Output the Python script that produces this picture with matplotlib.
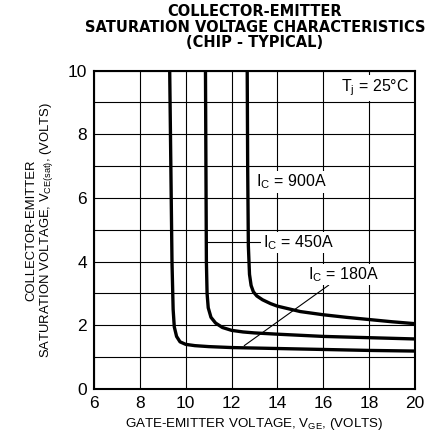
import numpy as np
import matplotlib.pyplot as plt

plt.rcParams['font.family'] = ['Liberation Sans', 'DejaVu Sans']

# curves (V_GE, V_CE(sat))
vge_180 = [9.30, 9.35, 9.40, 9.45, 9.50, 9.60, 9.75, 10.0, 10.4, 11.0, 12.0, 14.0, 16.0, 18.0, 20.0]
vce_180 = [10.0, 7.0, 4.0, 2.5, 1.95, 1.65, 1.48, 1.40, 1.36, 1.33, 1.30, 1.27, 1.24, 1.21, 1.19]

vge_450 = [10.86, 10.88, 10.90, 10.93, 10.98, 11.10, 11.30, 11.60, 12.0, 12.5, 13.0, 14.0, 16.0, 18.0, 20.0]
vce_450 = [10.0, 7.0, 4.0, 3.0, 2.55, 2.25, 2.07, 1.93, 1.84, 1.79, 1.76, 1.72, 1.65, 1.61, 1.57]

vge_900 = [12.68, 12.70, 12.73, 12.78, 12.85, 12.95, 13.10, 13.35, 13.70, 14.0, 15.0, 16.0, 17.0, 18.0, 19.0, 20.0]
vce_900 = [10.0, 7.0, 4.5, 3.6, 3.25, 3.05, 2.92, 2.80, 2.68, 2.60, 2.43, 2.33, 2.25, 2.18, 2.11, 2.05]

x_ticks = [6, 8, 10, 12, 14, 16, 18, 20]
y_ticks = [0, 2, 4, 6, 8, 10]
title_lines = ['COLLECTOR-EMITTER', 'SATURATION VOLTAGE CHARACTERISTICS', '(CHIP - TYPICAL)']

fig = plt.figure(figsize=(4.41, 4.44), dpi=100)
ax = fig.add_axes([0.2132, 0.124, 0.728, 0.717])

for xs, ys in [(vge_180, vce_180), (vge_450, vce_450), (vge_900, vce_900)]:
    ax.plot(xs, ys, color='black', lw=2.4, solid_capstyle='butt', zorder=4)

ax.set_xlim(6, 20)
ax.set_ylim(0, 10)
ax.set_xticks(x_ticks)
ax.set_yticks(y_ticks)
ax.set_yticks(np.arange(1, 10, 2), minor=True)
ax.grid(True, which='both', color='black', lw=0.8)
ax.tick_params(which='both', length=0, labelsize=12.5, pad=5)
for s in ax.spines.values():
    s.set_linewidth(1.5)

ax.text(19.75, 9.45, '$\\mathregular{T_j}$ = 25°C', fontsize=11.5, ha='right', va='center',
        bbox=dict(facecolor='white', edgecolor='none', pad=2), zorder=5)
ax.text(13.08, 6.5, '$\\mathregular{I_C}$ = 900A', fontsize=11.5, ha='left', va='center',
        bbox=dict(facecolor='white', edgecolor='none', pad=1), zorder=5)
ax.annotate('$\\mathregular{I_C}$ = 450A', xy=(10.95, 4.6), xytext=(13.35, 4.6), fontsize=11.5,
            ha='left', va='center', arrowprops=dict(arrowstyle='-', lw=0.8, shrinkA=0, shrinkB=0),
            bbox=dict(facecolor='white', edgecolor='none', pad=1), zorder=5)
ax.annotate('$\\mathregular{I_C}$ = 180A', xy=(12.55, 1.36), xytext=(15.35, 3.6), fontsize=11.5,
            ha='left', va='center', arrowprops=dict(arrowstyle='-', lw=0.8, shrinkA=0, shrinkB=0),
            bbox=dict(facecolor='white', edgecolor='none', pad=1), zorder=5)

for i, line in enumerate(title_lines):
    fig.text(0.578, 1 - (11.5 + 15.5 * i) / 444, line, ha='center', va='center',
             fontsize=10.5, fontweight='bold', family='DejaVu Sans')
ax.set_xlabel('GATE-EMITTER VOLTAGE, $\\mathregular{V_{GE}}$, (VOLTS)', fontsize=9.6, labelpad=4)
ax.set_ylabel('COLLECTOR-EMITTER\nSATURATION VOLTAGE, $\\mathregular{V_{CE(sat)}}$, (VOLTS)',
              fontsize=9.4, labelpad=9, linespacing=1.05)

fig.savefig('out.png', dpi=100)
